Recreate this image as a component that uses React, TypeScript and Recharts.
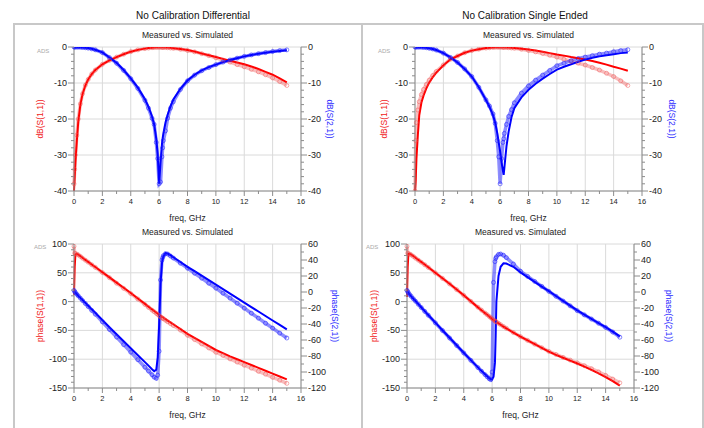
import React from "react";
import { LineChart, Line, XAxis, YAxis, CartesianGrid } from "recharts";

// frequency points, GHz (denser round the resonance)
const freqGHz = [
  0, 0.05, 0.1, 0.2, 0.3, 0.45, 0.6, 0.8, 1, 1.25, 1.5, 2,
  2.5, 3, 3.5, 4, 4.5, 5, 5.25, 5.5, 5.65, 5.8, 5.9, 6,
  6.1, 6.2, 6.25, 6.3, 6.45, 6.6, 6.8, 7, 7.5, 8, 8.5, 9,
  9.5, 10, 10.5, 11, 11.5, 12, 12.5, 13, 13.5, 14, 14.5, 15,
];

// --- No Calibration Differential, dB ---
const diffS11DbSim = [
  -40, -36, -32, -26, -20.8, -16, -13.1, -10.7, -9, -7.5, -6.4, -4.8,
  -3.7, -2.8, -2, -1.3, -0.8, -0.45, -0.3, -0.2, -0.15, -0.1, -0.08, -0.07,
  -0.07, -0.08, -0.09, -0.1, -0.13, -0.17, -0.24, -0.32, -0.55, -0.85, -1.25, -1.8,
  -2.3, -2.8, -3.3, -3.8, -4.3, -4.8, -5.4, -6.1, -6.9, -7.7, -8.7, -9.8,
];
const diffS11DbMeas = [
  -38, -34, -30, -24.5, -20, -15.8, -13, -10.6, -9, -7.5, -6.4, -4.8,
  -3.7, -2.8, -2, -1.3, -0.8, -0.45, -0.3, -0.2, -0.15, -0.1, -0.08, -0.07,
  -0.08, -0.09, -0.1, -0.11, -0.15, -0.2, -0.28, -0.37, -0.62, -0.95, -1.35, -1.85,
  -2.4, -3, -3.6, -4.2, -4.9, -5.5, -6.2, -6.9, -7.7, -8.6, -9.6, -10.7,
];
const diffS21DbSim = [
  0, 0, -0.01, -0.02, -0.04, -0.07, -0.12, -0.2, -0.3, -0.5, -0.75, -1.5,
  -2.9, -4.4, -6.4, -8.7, -11.3, -14.5, -16.6, -19.3, -21.5, -25.5, -30, -38,
  -32, -27, -25.3, -24, -21, -18.8, -16.5, -14.6, -11.6, -9.3, -7.7, -6.5,
  -5.6, -4.9, -4.2, -3.6, -3.1, -2.6, -2.2, -1.9, -1.6, -1.3, -1.1, -0.9,
];
const diffS21DbMeas = [
  0, 0, -0.01, -0.02, -0.04, -0.07, -0.12, -0.2, -0.32, -0.52, -0.78, -1.55,
  -2.95, -4.5, -6.5, -8.8, -11.5, -14.8, -17, -19.8, -21.5, -26.5, -31, -38,
  -37.5, -30.5, -28, -26, -23.3, -19.8, -17, -15.2, -11.8, -9.4, -7.8, -6.6,
  -5.7, -4.9, -4.2, -3.6, -3.1, -2.6, -2.2, -1.85, -1.55, -1.25, -1, -0.8,
];

// --- No Calibration Single Ended, dB ---
const seS11DbSim = [
  -40, -37, -31, -24.5, -19, -15.5, -13.5, -11.5, -9.9, -8.4, -7.1, -5.1,
  -3.4, -2.5, -1.6, -1, -0.6, -0.3, -0.2, -0.12, -0.08, -0.05, -0.04, -0.04,
  -0.05, -0.06, -0.07, -0.08, -0.11, -0.15, -0.21, -0.28, -0.48, -0.72, -1, -1.3,
  -1.7, -2.1, -2.4, -2.8, -3.1, -3.5, -3.9, -4.4, -4.9, -5.5, -6, -6.6,
];
const seS11DbMeas = [
  -40, -26, -21, -17.5, -15.2, -13.2, -11.8, -10.4, -9.2, -7.9, -6.8, -5,
  -3.4, -2.5, -1.6, -1, -0.6, -0.3, -0.2, -0.12, -0.08, -0.05, -0.04, -0.04,
  -0.06, -0.08, -0.09, -0.1, -0.14, -0.19, -0.27, -0.36, -0.62, -0.95, -1.35, -1.8,
  -2.3, -2.8, -3.4, -4, -4.5, -5, -5.7, -6.4, -7.3, -8.2, -9.4, -10.7,
];
const seS21DbSim = [
  0, 0, -0.01, -0.02, -0.04, -0.07, -0.12, -0.2, -0.35, -0.55, -0.85, -1.7,
  -2.9, -4.3, -6.1, -8.2, -11.2, -14.7, -16.6, -19, -21, -24, -26.5, -29,
  -32, -34.5, -35.5, -33.5, -27.5, -23.5, -19.5, -17, -14, -11.9, -10.2, -8.8,
  -7.5, -6.3, -5.5, -4.8, -4.1, -3.5, -3, -2.6, -2.3, -2, -1.7, -1.5,
];
const seS21DbMeas = [
  0, 0, -0.01, -0.02, -0.04, -0.07, -0.12, -0.2, -0.35, -0.55, -0.85, -1.7,
  -2.9, -4.3, -6.1, -8.2, -11.2, -14.7, -16.4, -18.6, -21.2, -26, -30.5, -38,
  -31, -26.5, -25.5, -24, -21.5, -19.3, -17.4, -15.5, -12.8, -10.8, -9.2, -7.8,
  -6.5, -5.2, -4.5, -3.8, -3.2, -2.8, -2.4, -2, -1.7, -1.3, -1, -0.75,
];

// --- No Calibration Differential, phase (deg) ---
const diffS11PhSim = [
  12, 60, 82, 83, 81.5, 79, 76, 72.5, 69, 64.5, 60, 51,
  42, 33, 24, 15, 5.5, -4, -8.8, -13.5, -16.3, -19, -21, -23,
  -24.7, -26.4, -27.2, -28, -30.5, -33, -36.2, -39.3, -47.5, -56, -63, -70,
  -77, -84, -89.5, -95, -100, -105, -110, -115, -120, -125, -130, -135,
];
const diffS11PhMeas = [
  96, 84, 83, 82.5, 81, 78.5, 75.5, 72, 68.5, 64, 59.5, 50.5,
  41.5, 32, 23, 14, 4.5, -5, -10, -14.8, -17.6, -20.4, -22.3, -24.5,
  -26.3, -28, -28.9, -29.8, -32.3, -35, -38.3, -41.5, -49.5, -58.5, -66, -73.5,
  -80.5, -88, -93.5, -99.5, -105, -110.5, -115.5, -121, -126, -131.5, -136.5, -142,
];
const diffS21PhSim = [
  1, 0, -1, -2.8, -4.6, -7.3, -10, -13.6, -17.2, -21.6, -26, -35,
  -44, -52.8, -61.6, -70.3, -79, -87.7, -92, -96.5, -99, -97, -82, -42,
  10, 36, 41, 44.5, 48.5, 48, 46, 43.5, 37.5, 31.5, 26, 20.5,
  14.8, 9.2, 3.6, -2, -7.6, -13.2, -18.8, -24.4, -30, -35.6, -41.2, -46.8,
];
const diffS21PhMeas = [
  2, 0.5, -0.8, -2.8, -4.8, -7.7, -10.6, -14.4, -18.2, -23, -27.7, -37.3,
  -46.8, -56.3, -65.8, -75.2, -84.6, -94, -98.8, -103.5, -106.5, -108, -104, -74,
  15, 40, 43, 45.5, 48, 47.5, 45, 42.5, 36, 29.8, 23.5, 17.3,
  11, 4.8, -1.5, -7.7, -14, -20.2, -26.5, -32.7, -39, -45.2, -51.4, -57.5,
];

// --- No Calibration Single Ended, phase (deg) ---
const seS11PhSim = [
  8, 60, 83, 83, 81.5, 79, 76, 72.5, 69, 64.3, 59.6, 50,
  40.5, 31, 21, 11, 0.5, -10, -15, -20, -23, -26, -28, -30,
  -32, -33.8, -34.6, -35.4, -37.8, -40.2, -43.4, -46.5, -54, -61, -67.5, -74,
  -80.5, -87, -92.5, -97.5, -102.5, -107.5, -113, -118.5, -124.5, -131, -138, -146,
];
const seS11PhMeas = [
  96, 84, 83, 82.5, 81, 78.5, 75.5, 72, 68.5, 64, 59.3, 49.8,
  40.3, 30.7, 20.8, 10.8, 0.5, -9.8, -14.8, -19.8, -22.8, -25.8, -27.8, -29.8,
  -31.8, -33.6, -34.4, -35.2, -37.6, -40, -43.2, -46.3, -53.8, -60.8, -67.3, -73.8,
  -80.2, -86.5, -91.8, -96.8, -101.5, -106.3, -111.3, -116.5, -122, -128, -134.5, -141,
];
const seS21PhSim = [
  1, 0, -1.5, -3.5, -5.5, -8.4, -11.3, -15.2, -19.1, -23.9, -28.7, -38.3,
  -47.8, -57.2, -66.6, -75.9, -85.1, -94.2, -98.6, -102.9, -105.4, -107.8, -109, -109.3,
  -106, -88, -55, -12, 20, 31.5, 35.8, 35.5, 31.5, 24.5, 18.5, 12.7,
  6.8, 1, -5, -11, -17, -23, -28.3, -33.5, -38.8, -44, -49.5, -55.5,
];
const seS21PhMeas = [
  2, 0.5, -1.2, -3.4, -5.5, -8.5, -11.5, -15.4, -19.3, -24.2, -29, -38.6,
  -48.1, -57.5, -66.9, -76.2, -85.4, -94.5, -99, -103.3, -106, -108.5, -109.5, -100,
  12, 38, 42, 44, 47, 47.5, 46, 43, 35, 26, 19.5, 13.2,
  7, 0.8, -5.3, -11.3, -17.3, -23.3, -28.6, -33.8, -39, -44.3, -50, -56.5,
];

// axis ticks
const freqTicks = [0, 2, 4, 6, 8, 10, 12, 14, 16];
const dbTicks = [0, -10, -20, -30, -40];
const ph11Ticks = [100, 50, 0, -50, -100, -150];
const ph21Ticks = [60, 40, 20, 0, -20, -40, -60, -80, -100, -120];

const PW = 227; // plot width
const PH = 144; // plot height
const AXIS = "#8c8c8c";
const FONT = "'Liberation Sans', Arial, sans-serif";

type Side = "left" | "right" | "bottom";

function makeTick(side: Side, minorCount: number, minorStep: number, endValue: number, fontSize: number) {
  return function Tick(props: any) {
    const { x, y, payload } = props;
    const v = payload.value;
    const minors: React.ReactNode[] = [];
    if (v !== endValue) {
      for (let k = 1; k <= minorCount; k++) {
        const d = k * minorStep;
        if (side === "bottom") minors.push(<line key={k} x1={x + d} x2={x + d} y1={y} y2={y + 3} stroke={AXIS} />);
        else if (side === "left") minors.push(<line key={k} x1={x - 3} x2={x} y1={y + d} y2={y + d} stroke={AXIS} />);
        else minors.push(<line key={k} x1={x} x2={x + 3} y1={y + d} y2={y + d} stroke={AXIS} />);
      }
    }
    let major, label;
    if (side === "bottom") {
      major = <line x1={x} x2={x} y1={y} y2={y + 5} stroke={AXIS} />;
      label = (
        <text x={x} y={y + 10} textAnchor="middle" dominantBaseline="central" fontSize={fontSize} fill="#222" fontFamily={FONT}>
          {v}
        </text>
      );
    } else if (side === "left") {
      major = <line x1={x - 6} x2={x} y1={y} y2={y} stroke={AXIS} />;
      label = (
        <text x={x - 7} y={y} textAnchor="end" dominantBaseline="central" fontSize={fontSize} fill="#222" fontFamily={FONT}>
          {v}
        </text>
      );
    } else {
      major = <line x1={x} x2={x + 6} y1={y} y2={y} stroke={AXIS} />;
      label = (
        <text x={x + 7} y={y} textAnchor="start" dominantBaseline="central" fontSize={fontSize} fill="#222" fontFamily={FONT}>
          {v}
        </text>
      );
    }
    return (
      <g>
        {major}
        {minors}
        {label}
      </g>
    );
  };
}

const xTick = makeTick("bottom", 1, PW / 16, 16, 7.5);

type AxisSpec = {
  domain: [number, number];
  ticks: number[];
  minorCount: number;
  minorStep: number;
  label: string;
  offset: number;
};

type PanelProps = {
  px: number;
  py: number;
  s11Meas: number[];
  s11Sim: number[];
  s21Meas: number[];
  s21Sim: number[];
  left: AxisSpec;
  right: AxisSpec;
};

function Panel({ px, py, s11Meas, s11Sim, s21Meas, s21Sim, left, right }: PanelProps) {
  const rows = freqGHz.map((f, i) => ({
    f,
    m11: s11Meas[i],
    s11: s11Sim[i],
    m21: s21Meas[i],
    s21: s21Sim[i],
  }));
  const leftTick = makeTick("left", left.minorCount, left.minorStep, left.domain[0], 9);
  const rightTick = makeTick("right", right.minorCount, right.minorStep, right.domain[0], 9);
  return (
    <div style={{ position: "absolute", left: px - 60, top: py - 20 }}>
      <LineChart width={337} height={200} data={rows} margin={{ top: 20, right: 0, bottom: 0, left: 0 }}>
        <CartesianGrid stroke="#dadada" strokeWidth={1} />
        <XAxis
          type="number"
          dataKey="f"
          domain={[0, 16]}
          ticks={freqTicks}
          interval={0}
          height={36}
          tickSize={0}
          tickMargin={0}
          tickLine={false}
          tick={xTick}
          axisLine={{ stroke: AXIS }}
          label={{ value: "freq, GHz", position: "insideBottom", offset: 6, fill: "#222", fontSize: 8.5 }}
        />
        <YAxis
          type="number"
          domain={left.domain}
          ticks={left.ticks}
          interval={0}
          width={60}
          tickSize={0}
          tickMargin={0}
          tickLine={false}
          tick={leftTick}
          axisLine={{ stroke: AXIS }}
          allowDataOverflow
          label={{
            value: left.label,
            angle: -90,
            position: "insideLeft",
            offset: left.offset,
            fill: "#f02020",
            fontSize: 8.5,
            style: { textAnchor: "middle" },
          }}
        />
        <YAxis
          yAxisId="r"
          orientation="right"
          type="number"
          domain={right.domain}
          ticks={right.ticks}
          interval={0}
          width={50}
          tickSize={0}
          tickMargin={0}
          tickLine={false}
          tick={rightTick}
          axisLine={{ stroke: AXIS }}
          allowDataOverflow
          label={{
            value: right.label,
            angle: 90,
            position: "insideRight",
            offset: right.offset,
            fill: "#2a2aff",
            fontSize: 8.5,
            style: { textAnchor: "middle" },
          }}
        />
        <Line
          type="linear"
          dataKey="m11"
          stroke="#f06a6a"
          strokeOpacity={0.45}
          strokeWidth={3.5}
          dot={{ r: 2, stroke: "#f05050", strokeWidth: 1, fill: "none" }}
          isAnimationActive={false}
        />
        <Line
          type="linear"
          dataKey="m21"
          yAxisId="r"
          stroke="#3030ff"
          strokeOpacity={0.55}
          strokeWidth={3.5}
          dot={{ r: 2, stroke: "#2020ff", strokeWidth: 1, fill: "none" }}
          isAnimationActive={false}
        />
        <Line type="linear" dataKey="s11" stroke="#ff0000" strokeWidth={2} dot={false} isAnimationActive={false} />
        <Line type="linear" dataKey="s21" yAxisId="r" stroke="#0000ff" strokeWidth={2} dot={false} isAnimationActive={false} />
      </LineChart>
    </div>
  );
}

const dbLeft = (label: string, offset: number): AxisSpec => ({
  domain: [-40, 0],
  ticks: dbTicks,
  minorCount: 4,
  minorStep: PH / 20,
  label,
  offset,
});
const ph11Axis = (offset: number): AxisSpec => ({
  domain: [-150, 100],
  ticks: ph11Ticks,
  minorCount: 4,
  minorStep: PH / 25,
  label: "phase(S(1,1))",
  offset,
});
const ph21Axis = (offset: number): AxisSpec => ({
  domain: [-120, 60],
  ticks: ph21Ticks,
  minorCount: 1,
  minorStep: PH / 18,
  label: "phase(S(2,1))",
  offset,
});

export default function App() {
  const frame = "#c8c8c8";
  const small = { fontSize: 6, fill: "#aaa", fontFamily: FONT };
  const sub = { fontSize: 8.5, fill: "#222", fontFamily: FONT, textAnchor: "middle" as const };
  return (
    <div style={{ position: "absolute", left: 0, top: 0, width: 704, height: 428, background: "#fff", fontFamily: FONT, overflow: "hidden" }}>
      <svg width={704} height={428} style={{ position: "absolute", left: 0, top: 0 }}>
        <line x1={14} x2={704} y1={24} y2={24} stroke={frame} strokeWidth={2} />
        <line x1={14} x2={14} y1={23} y2={428} stroke={frame} strokeWidth={2} />
        <line x1={362} x2={362} y1={23} y2={428} stroke={frame} strokeWidth={2} />
        <line x1={703} x2={703} y1={23} y2={428} stroke={frame} strokeWidth={2} />
        <text x={193} y={15} fontSize={10} fill="#111" fontFamily={FONT} textAnchor="middle" dominantBaseline="central">
          No Calibration Differential
        </text>
        <text x={525} y={15} fontSize={10} fill="#111" fontFamily={FONT} textAnchor="middle" dominantBaseline="central">
          No Calibration Single Ended
        </text>
        <text x={187.5} y={35} dominantBaseline="central" {...sub}>Measured vs. Simulated</text>
        <text x={528.5} y={35} dominantBaseline="central" {...sub}>Measured vs. Simulated</text>
        <text x={187.5} y={232} dominantBaseline="central" {...sub}>Measured vs. Simulated</text>
        <text x={520.5} y={232} dominantBaseline="central" {...sub}>Measured vs. Simulated</text>
        <text x={37} y={53} {...small}>ADS</text>
        <text x={378} y={53} {...small}>ADS</text>
        <text x={34} y={249} {...small}>ADS</text>
        <text x={366} y={249} {...small}>ADS</text>
      </svg>
      <Panel
        px={74}
        py={47}
        s11Meas={diffS11DbMeas}
        s11Sim={diffS11DbSim}
        s21Meas={diffS21DbMeas}
        s21Sim={diffS21DbSim}
        left={dbLeft("dB(S(1,1))", 26)}
        right={dbLeft("dB(S(2,1))", 21)}
      />
      <Panel
        px={415}
        py={47}
        s11Meas={seS11DbMeas}
        s11Sim={seS11DbSim}
        s21Meas={seS21DbMeas}
        s21Sim={seS21DbSim}
        left={dbLeft("dB(S(1,1))", 29)}
        right={dbLeft("dB(S(2,1))", 20)}
      />
      <Panel
        px={74}
        py={244}
        s11Meas={diffS11PhMeas}
        s11Sim={diffS11PhSim}
        s21Meas={diffS21PhMeas}
        s21Sim={diffS21PhSim}
        left={ph11Axis(26)}
        right={ph21Axis(16)}
      />
      <Panel
        px={407}
        py={244}
        s11Meas={seS11PhMeas}
        s11Sim={seS11PhSim}
        s21Meas={seS21PhMeas}
        s21Sim={seS21PhSim}
        left={ph11Axis(27)}
        right={ph21Axis(15)}
      />
    </div>
  );
}
